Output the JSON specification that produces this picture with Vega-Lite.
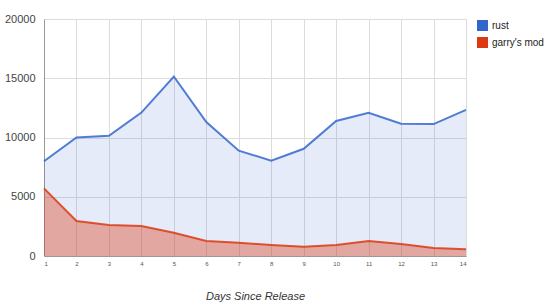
{
  "$schema": "https://vega.github.io/schema/vega-lite/v6.json",
  "autosize": {"type": "none"},
  "width": 422,
  "height": 237,
  "padding": {"left": 44, "top": 19, "right": 84, "bottom": 50},
  "background": "white",
  "config": {"view": {"stroke": null}, "font": "Liberation Sans"},
  "data": {"values": [
    {"day": 1, "series": "rust", "players": 8000},
    {"day": 2, "series": "rust", "players": 10000},
    {"day": 3, "series": "rust", "players": 10140},
    {"day": 4, "series": "rust", "players": 12100},
    {"day": 5, "series": "rust", "players": 15150},
    {"day": 6, "series": "rust", "players": 11300},
    {"day": 7, "series": "rust", "players": 8890},
    {"day": 8, "series": "rust", "players": 8050},
    {"day": 9, "series": "rust", "players": 9050},
    {"day": 10, "series": "rust", "players": 11390},
    {"day": 11, "series": "rust", "players": 12090},
    {"day": 12, "series": "rust", "players": 11160},
    {"day": 13, "series": "rust", "players": 11130},
    {"day": 14, "series": "rust", "players": 12330},
    {"day": 1, "series": "garry's mod", "players": 5710},
    {"day": 2, "series": "garry's mod", "players": 2950},
    {"day": 3, "series": "garry's mod", "players": 2610},
    {"day": 4, "series": "garry's mod", "players": 2530},
    {"day": 5, "series": "garry's mod", "players": 1960},
    {"day": 6, "series": "garry's mod", "players": 1260},
    {"day": 7, "series": "garry's mod", "players": 1120},
    {"day": 8, "series": "garry's mod", "players": 930},
    {"day": 9, "series": "garry's mod", "players": 790},
    {"day": 10, "series": "garry's mod", "players": 930},
    {"day": 11, "series": "garry's mod", "players": 1260},
    {"day": 12, "series": "garry's mod", "players": 1010},
    {"day": 13, "series": "garry's mod", "players": 670},
    {"day": 14, "series": "garry's mod", "players": 570}
  ]},
  "encoding": {
    "x": {
      "field": "day", "type": "quantitative",
      "scale": {"domain": [1, 14], "nice": false, "zero": false},
      "axis": {
        "values": [1,2,3,4,5,6,7,8,9,10,11,12,13,14],
        "labelFontSize": 6, "labelColor": "#555", "labelPadding": 4,
        "ticks": false, "grid": true, "gridColor": "#dcdcdc",
        "domainColor": "#999",
        "title": "Days Since Release", "titleFontSize": 11, "titleFontStyle": "italic",
        "titleFontWeight": "normal", "titleColor": "#333", "titlePadding": 24
      }
    },
    "y": {
      "field": "players", "type": "quantitative",
      "scale": {"domain": [0, 20000], "nice": false},
      "axis": {
        "values": [0, 5000, 10000, 15000, 20000], "format": "d",
        "labelFontSize": 11, "labelColor": "#444", "labelPadding": 9,
        "ticks": false, "grid": true, "gridColor": "#dcdcdc",
        "domainColor": "#999", "title": null
      }
    }
  },
  "layer": [
    {
      "transform": [{"filter": "datum.series === 'rust'"}],
      "mark": {"type": "area", "color": "#3366cc", "fillOpacity": 0.13}
    },
    {
      "transform": [{"filter": "datum.series === \"garry's mod\""}],
      "mark": {"type": "area", "color": "#dc3912", "fillOpacity": 0.38}
    },
    {
      "mark": {"type": "line", "strokeWidth": 2, "strokeOpacity": 0.85},
      "encoding": {
        "color": {
          "field": "series", "type": "nominal",
          "scale": {"domain": ["rust", "garry's mod"], "range": ["#3366cc", "#dc3912"]},
          "legend": {
            "title": null, "orient": "none", "legendX": 433, "legendY": 1,
            "symbolType": "square", "symbolSize": 90, "labelFontSize": 10,
            "labelColor": "#222", "rowPadding": 0, "symbolOffset": 0,
            "encode": {"symbols": {"update": {
              "fill": {"scale": "color", "field": "value"},
              "stroke": {"value": "transparent"},
              "opacity": {"value": 1}
            }}}
          }
        }
      }
    }
  ]
}
